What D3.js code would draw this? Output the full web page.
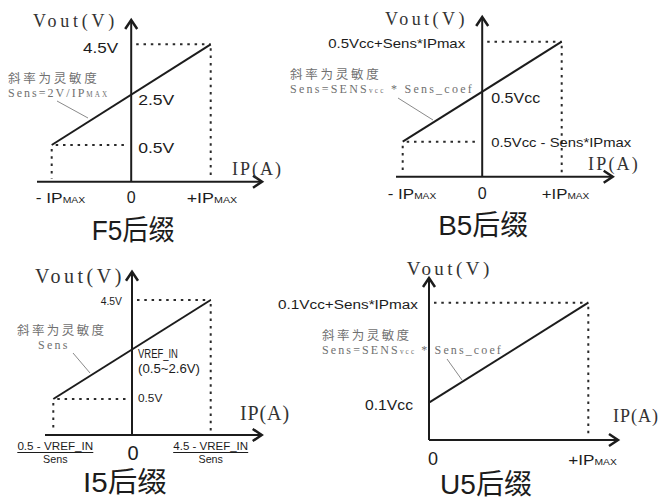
<!DOCTYPE html>
<html>
<head>
<meta charset="utf-8">
<script src="https://d3js.org/d3.v7.min.js"></script>
<style>
  body { margin: 0; background: #fff; }
  svg { display: block; }
</style>
</head>
<body>
<svg id="chart" width="660" height="500"></svg>
<script>
// ---- data (Vout in volts at Vcc = 5V, IP in units of IPmax) ----
const panelTitles = ["F5后缀", "B5后缀", "I5后缀", "U5后缀"];
const currentEnds = [[-1, 1], [-1, 1], [-1, 1], [0, 1]];
const voutEnds = [[0.5, 4.5], [0.5, 4.5], [0.5, 4.5], [0.5, 4.5]];
const axisTitles = ["Vout(V)", "IP(A)"];
// low / mid / high labels on the Vout side
const voutLabels = [
  ["0.5V", "2.5V", "4.5V"],
  ["0.5Vcc - Sens*IPmax", "0.5Vcc", "0.5Vcc+Sens*IPmax"],
  ["0.5V", "VREF_IN|(0.5~2.6V)", "4.5V"],
  ["0.1Vcc", "", "0.1Vcc+Sens*IPmax"]
];
// left / zero / right labels on the IP side
const currentLabels = [
  ["- IP_{MAX}", "0", "+IP_{MAX}"],
  ["- IP_{MAX}", "0", "+IP_{MAX}"],
  ["0.5 - VREF_IN/Sens", "0", "4.5 - VREF_IN/Sens"],
  ["", "0", "+IP_{MAX}"]
];
const slopeNotes = [
  ["斜率为灵敏度", "Sens=2V/IP_{MAX}"],
  ["斜率为灵敏度", "Sens=SENS_{vcc} * Sens_coef"],
  ["斜率为灵敏度", "Sens"],
  ["斜率为灵敏度", "Sens=SENS_{vcc} * Sens_coef"]
];

// ---- styling ----
const SANS = "'Liberation Sans', Arial, 'Noto Sans CJK SC', sans-serif";
const SERIF = "'Liberation Serif', 'DejaVu Serif', 'Noto Sans CJK SC', serif";
const INK = "#1c1c1c";
const GREY = "#707070";

const svg = d3.select("#chart");

// text helper: _{..} becomes a small tspan; width is reached either by
// stretching the glyphs or (spread) by letter spacing
function addText(g, str, x, y, o) {
  const t = g.append("text")
    .attr("text-anchor", o.anchor || "start")
    .style("font-family", o.font || SANS)
    .style("font-size", o.size + "px")
    .attr("fill", o.color || INK);
  str.split(/_\{([^}]*)\}/).forEach((p, i) => {
    if (!p) return;
    const s = t.append("tspan").text(p);
    if (i % 2 === 1) s.style("font-size", (o.size * 0.6) + "px");
  });
  let sx = 1;
  if (o.width) {
    const w = t.node().getBBox().width;
    if (o.spread) {
      const n = str.replace(/_\{|\}/g, "").length;
      t.style("letter-spacing", ((o.width - w) / n) + "px");
    } else if (w > 0) {
      sx = o.width / w;
    }
  }
  t.attr("transform", `translate(${x},${y}) scale(${sx},1)`);
  return t;
}

function fraction(g, str, cx, y, width) {
  const [num, den] = str.split("/");
  addText(g, num, cx, y, {anchor: "middle", size: 11, width: width});
  g.append("line").attr("x1", cx - width / 2).attr("x2", cx + width / 2)
    .attr("y1", y + 2.5).attr("y2", y + 2.5).attr("stroke", INK).attr("stroke-width", 1);
  addText(g, den, cx, y + 13, {anchor: "middle", size: 11, width: 25});
}

// ---- per panel layout ----
const layout = [
  { xr: [51.7, 210.7], yr: [145, 44.3], axisY: 181.7, axisX: [37, 262], yTop: 20,
    vout: {x: 33, y: 27, size: 18, w: 85}, ip: {x: 232, y: 175, size: 18, w: 51},
    title: {dx: 2, y: 240, w: 83}, leftDots: true },
  { xr: [402.7, 561.7], yr: [141.7, 41.7], axisY: 176.7, axisX: [396, 612.7], yTop: 17,
    vout: {x: 385, y: 25, size: 18, w: 83}, ip: {x: 588, y: 170, size: 18, w: 52},
    title: {dx: 1, y: 235, w: 90}, leftDots: true },
  { xr: [53.3, 210.7], yr: [399, 300], axisY: 435, axisX: [45, 261.7], yTop: 271.7,
    vout: {x: 35, y: 283, size: 20, w: 90}, ip: {x: 240, y: 420, size: 20, w: 50},
    title: {dx: -7, y: 492, w: 84}, leftDots: true },
  { xr: [429, 588.3], yr: [402.7, 302.7], axisY: 440, axisX: [429, 618], yTop: 278,
    vout: {x: 406.7, y: 275, size: 19, w: 86}, ip: {x: 613, y: 422, size: 18, w: 46},
    title: {dx: 57, y: 494, w: 92}, leftDots: false }
];

layout.forEach((L, i) => {
  const g = svg.append("g");
  const x = d3.scaleLinear().domain(currentEnds[i]).range(L.xr);
  const y = d3.scaleLinear().domain(voutEnds[i]).range(L.yr);
  const ax = x(0);
  const [lo, hi] = voutEnds[i];
  const [c0, c1] = currentEnds[i];

  // dotted guides
  const dots = [[ax + 5, y(hi), x(c1), y(hi)], [x(c1), y(hi) + 4, x(c1), L.axisY - 3]];
  if (L.leftDots) {
    dots.push([x(c0) + 4, y(lo), ax - 3, y(lo)], [x(c0), y(lo) + 4, x(c0), L.axisY - 3]);
  }
  g.selectAll("line.dot").data(dots).enter().append("line")
    .attr("x1", d => d[0]).attr("y1", d => d[1]).attr("x2", d => d[2]).attr("y2", d => d[3])
    .attr("stroke", "#2a2a2a").attr("stroke-width", 2).attr("stroke-dasharray", "2.5,4.8");

  // axes
  g.append("line").attr("x1", L.axisX[0]).attr("x2", L.axisX[1])
    .attr("y1", L.axisY).attr("y2", L.axisY).attr("stroke", INK).attr("stroke-width", 2);
  g.append("line").attr("x1", ax).attr("x2", ax)
    .attr("y1", L.axisY).attr("y2", L.yTop).attr("stroke", INK).attr("stroke-width", 2);
  g.append("path")
    .attr("d", `M${ax - 6},${L.yTop + 9}L${ax},${L.yTop}L${ax + 6},${L.yTop + 9}`)
    .attr("fill", "none").attr("stroke", INK).attr("stroke-width", 2.5);
  g.append("path")
    .attr("d", `M${L.axisX[1] - 9},${L.axisY - 6}L${L.axisX[1]},${L.axisY}L${L.axisX[1] - 9},${L.axisY + 6}`)
    .attr("fill", "none").attr("stroke", INK).attr("stroke-width", 2.5);

  // transfer line
  g.append("path")
    .datum([[c0, lo], [c1, hi]])
    .attr("d", d3.line().x(d => x(d[0])).y(d => y(d[1])))
    .attr("fill", "none").attr("stroke", INK).attr("stroke-width", 2);

  // axis titles
  addText(g, axisTitles[0], L.vout.x, L.vout.y, {font: SERIF, size: L.vout.size, width: L.vout.w, spread: true, color: "#333"});
  addText(g, axisTitles[1], L.ip.x, L.ip.y, {font: SERIF, size: L.ip.size, width: L.ip.w, spread: true, color: "#333"});

  // chart title
  addText(g, panelTitles[i], ax + L.title.dx, L.title.y, {anchor: "middle", size: 28, width: L.title.w});
});

// ---- panel specific labels ----
const scales = layout.map((L, i) => ({
  x: d3.scaleLinear().domain(currentEnds[i]).range(L.xr),
  y: d3.scaleLinear().domain(voutEnds[i]).range(L.yr)
}));
const lab = svg.append("g");
const note = (s, x, y, w) => addText(lab, s, x, y, {size: 12.5, width: w, spread: true, color: GREY});
const formula = (s, x, y, w) => addText(lab, s, x, y, {font: SERIF, size: 12, width: w, spread: true, color: GREY});
const leader = (x1, y1, x2, y2) => lab.append("line")
  .attr("x1", x1).attr("y1", y1).attr("x2", x2).attr("y2", y2)
  .attr("stroke", "#8a8a8a").attr("stroke-width", 1);

// F5
{
  const s = scales[0], ax = s.x(0), v = voutLabels[0], c = currentLabels[0], n = slopeNotes[0];
  addText(lab, v[0], ax + 7, s.y(0.5) + 8, {size: 14, width: 37});
  addText(lab, v[1], ax + 7, s.y(2.5) + 10, {size: 14, width: 37});
  addText(lab, v[2], ax - 13, s.y(4.5) + 9, {anchor: "end", size: 14, width: 36});
  addText(lab, c[0], s.x(-1) - 16, 203, {size: 14, width: 50});
  addText(lab, c[1], ax, 203, {anchor: "middle", size: 16});
  addText(lab, c[2], s.x(1) - 24, 203, {size: 14, width: 51});
  note(n[0], 8, 83, 92);
  formula(n[1], 8, 97, 102);
  leader(57, 101, 88, 118);
}
// B5
{
  const s = scales[1], ax = s.x(0), v = voutLabels[1], c = currentLabels[1], n = slopeNotes[1];
  addText(lab, v[0], ax + 9, s.y(0.5) + 5, {size: 12.5, width: 141});
  addText(lab, v[1], ax + 9, s.y(2.5) + 11, {size: 14, width: 49});
  addText(lab, v[2], ax - 17, s.y(4.5) + 6, {anchor: "end", size: 12.5, width: 138});
  addText(lab, c[0], s.x(-1) - 15, 199, {size: 14, width: 49});
  addText(lab, c[1], ax, 199, {anchor: "middle", size: 16});
  addText(lab, c[2], s.x(1) - 20, 199, {size: 14, width: 48});
  note(n[0], 290, 79, 92);
  formula(n[1], 290, 93, 184);
  leader(398, 98, 433, 120);
}
// I5
{
  const s = scales[2], ax = s.x(0), v = voutLabels[2], c = currentLabels[2], n = slopeNotes[2];
  const mid = v[1].split("|");
  addText(lab, v[0], ax + 6, s.y(0.5) + 3, {size: 11, width: 25});
  addText(lab, mid[0], ax + 6, 358, {size: 13, width: 40});
  addText(lab, mid[1], ax + 6, 373, {size: 13, width: 62});
  addText(lab, v[2], ax - 10, s.y(4.5) + 5, {anchor: "end", size: 11, width: 22});
  fraction(lab, c[0], s.x(-1) + 2, 450, 76);
  addText(lab, c[1], ax + 1, 460, {anchor: "middle", size: 20});
  fraction(lab, c[2], s.x(1), 450, 75);
  note(n[0], 17, 335, 90);
  formula(n[1], 38, 349, 32);
  leader(73, 353, 90, 373);
}
// U5
{
  const s = scales[3], ax = s.x(0), v = voutLabels[3], c = currentLabels[3], n = slopeNotes[3];
  addText(lab, v[0], ax - 16, s.y(0.5) + 7, {anchor: "end", size: 14, width: 48});
  addText(lab, v[2], ax - 11, s.y(4.5) + 6, {anchor: "end", size: 12.5, width: 141});
  addText(lab, c[1], ax + 4, 465, {anchor: "middle", size: 18});
  addText(lab, c[2], s.x(1) - 20, 465, {size: 14, width: 49});
  note(n[0], 322, 340, 90);
  formula(n[1], 322, 354, 181);
  leader(447, 359, 462, 380);
}
</script>
</body>
</html>
